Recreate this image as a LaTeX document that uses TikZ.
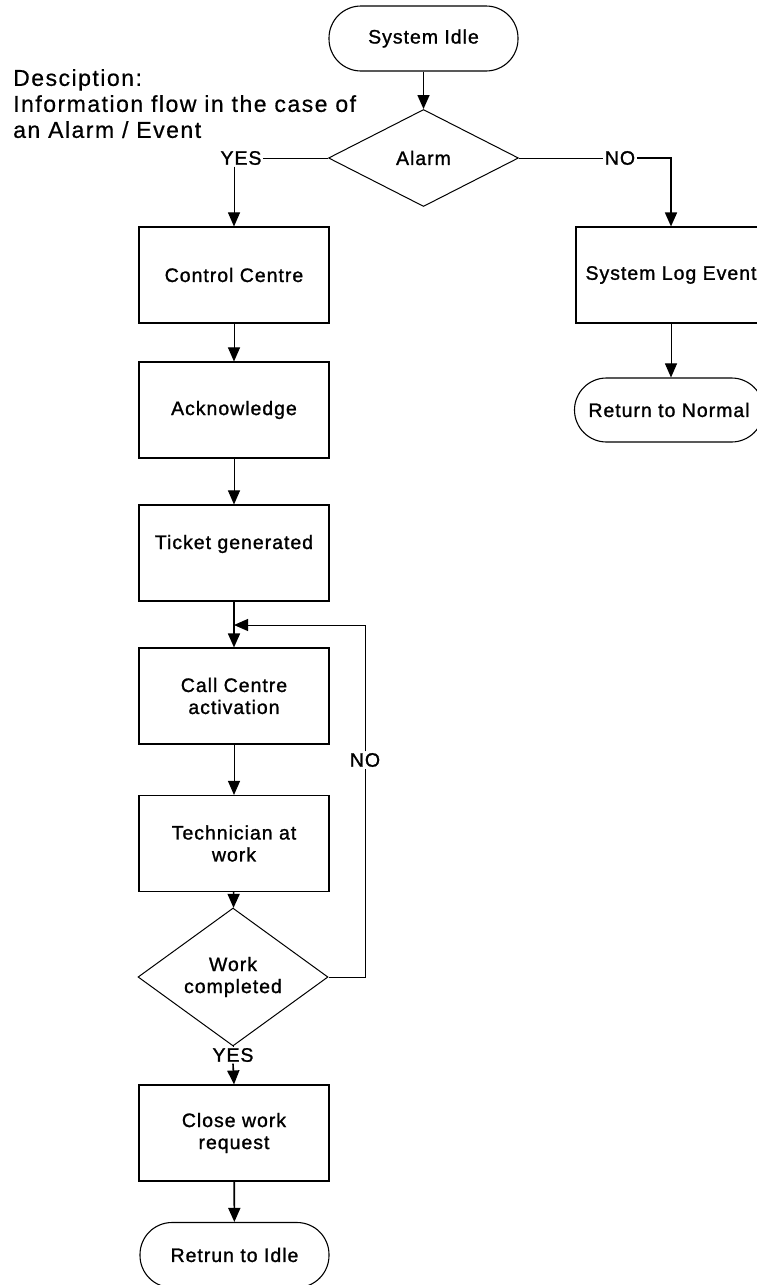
\documentclass[tikz,border=0pt]{standalone}
\usepackage{fontspec}
\setmainfont{Liberation Sans}
\newfontfamily\boxfont[LetterSpace=5,FakeBold=1.2]{Liberation Sans}
\newfontfamily\descfont[LetterSpace=6.5,FakeBold=0.6]{Liberation Sans}
\usetikzlibrary{shapes.geometric,arrows.meta}

\begin{document}
\begin{tikzpicture}[x=1pt,y=-1pt,
  every node/.style={font=\boxfont\fontsize{19.5}{22}\selectfont, inner sep=0pt},
  proc/.style={draw, line width=1.1pt, minimum width=190pt, minimum height=96pt, align=center},
  term/.style={draw, line width=1.1pt, rounded corners=32pt, minimum width=189pt, minimum height=65pt},
  decide/.style={diamond, draw, line width=1pt, minimum width=190pt, minimum height=97pt, align=center},
  flow/.style={line width=1pt, -{Triangle[width=12pt,length=14pt]}},
  heavy/.style={flow, line width=1.6pt},
  plain/.style={line width=1pt},
  lbl/.style={inner sep=1.5pt, fill=white}
]
\useasboundingbox (0,0) rectangle (756,1285);

% description
\node[anchor=north west, align=left, font=\descfont\fontsize{23}{26}\selectfont]
  (desc) at (13,69) {Desciption:\\Information flow in the case of\\an Alarm / Event};

% main column
\node[term]   (idle)   at (423.5,38.5) {System Idle};
\node[decide] (alarm)  at (423.5,158)  {Alarm};
\node[proc]   (cc)     at (234,275)    {Control Centre};
\node[proc]   (ack)    at (234,410)    {Acknowledge};
\node[proc, text height=14pt, text depth=22pt] (ticket) at (234,553) {Ticket generated};
\node[proc]   (call)   at (234,696)    {Call Centre\\activation};
\node[proc]   (tech)   at (234,843.5)  {Technician at\\work};
\node[decide, minimum height=96pt] (work) at (233,977) {Work\\completed};
\node[proc]   (close)  at (234,1133)   {Close work\\request};
\node[term]   (rtidle) at (234.5,1255) {Retrun to Idle};

% right branch
\node[proc]   (syslog) at (671,275)    {System Log Event};
\node[term, minimum height=64pt] (rtnorm) at (669,410) {Return to Normal};

% branch labels
\node[lbl] (yes1) at (241,158)  {YES};
\node[lbl] (no1)  at (620,158)  {NO};
\node[lbl] (no2)  at (365,760)  {NO};
\node[lbl] (yes2) at (233,1055) {YES};
\coordinate (merge) at (234,625);

% connectors
\draw[heavy] (idle) -- (alarm);
\draw[plain] (alarm.west) -- (yes1.east);
\draw[flow]  (yes1.south -| cc.north) -- (cc.north);
\draw[plain] (alarm.east) -- (no1.west);
\draw[heavy] (no1.east) -| (syslog.north);
\draw[flow]  (syslog) -- (rtnorm.north -| syslog.south);
\draw[flow]  (cc) -- (ack);
\draw[flow]  (ack) -- (ticket);
\draw[heavy] (ticket) -- (call);
\draw[flow]  (call) -- (tech);
\draw[heavy] (tech) -- (work);
\draw[plain] (work.east) -| (no2.south);
\draw[flow]  (no2.north) |- (merge);
\draw[plain] (work.south) -- (yes2.north);
\draw[heavy] (yes2.south) -- (close.north);
\draw[heavy] (close) -- (rtidle);
\end{tikzpicture}
\end{document}
